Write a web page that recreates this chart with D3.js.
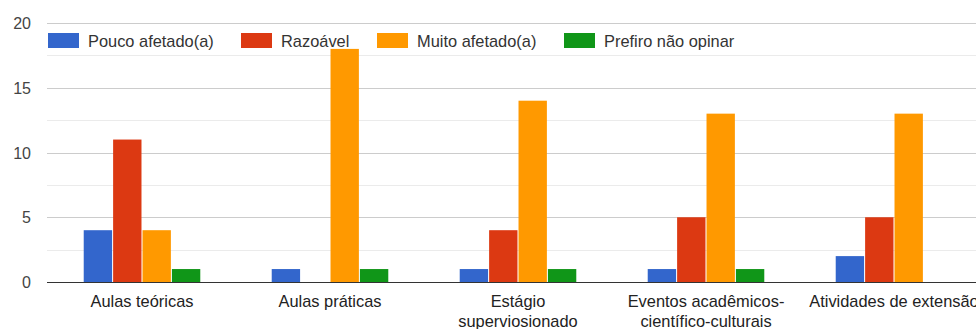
<!DOCTYPE html>
<html><head><meta charset="utf-8">
<script src="https://cdn.jsdelivr.net/npm/d3@7"></script>
<style>body{margin:0;background:#fff;overflow:hidden}svg{display:block;font-family:Arial,"Liberation Sans",sans-serif}</style>
</head><body><svg id="c" width="976" height="329"></svg>
<script>
const categories = [["Aulas teóricas"],["Aulas práticas"],["Estágio","superviosionado"],["Eventos acadêmicos-","científico-culturais"],["Atividades de extensão"]];
const seriesNames = ["Pouco afetado(a)","Razoável","Muito afetado(a)","Prefiro não opinar"];
const seriesColors = ["#3366cc","#dc3912","#ff9900","#109618"];
const pouco = [4,1,1,1,2];
const razoavel = [11,0,4,5,5];
const muito = [4,18,14,13,13];
const prefiro = [1,1,1,1,0];
const yTicks = [0,5,10,15,20];
const yMinor = [2.5,7.5,12.5,17.5];

(function(){
const values = [pouco, razoavel, muito, prefiro];
const svg = d3.select("#c");
const mLeft = 48, mRight = 988, mTop = 23, mBottom = 282;
const x = d3.scaleBand().domain(d3.range(categories.length)).range([mLeft, mRight]);
const groupW = x.step()*0.62;
const x1 = d3.scaleBand().domain(d3.range(seriesNames.length))
  .range([(x.step()-groupW)/2, (x.step()+groupW)/2]).paddingInner(0.035).paddingOuter(0);
const y = d3.scaleLinear().domain([0,20]).range([mBottom, mTop]);

svg.append("g").selectAll("line").data(yMinor).join("line")
  .attr("x1", mLeft-1).attr("x2", 976).attr("y1", d=>Math.round(y(d))+0.5).attr("y2", d=>Math.round(y(d))+0.5)
  .attr("stroke","#ebebeb").attr("stroke-width",1);
svg.append("g").selectAll("line").data(yTicks.filter(d=>d>0)).join("line")
  .attr("x1", mLeft-1).attr("x2", 976).attr("y1", d=>Math.round(y(d))+0.5).attr("y2", d=>Math.round(y(d))+0.5)
  .attr("stroke","#cccccc").attr("stroke-width",1);

svg.append("g").selectAll("text").data(yTicks).join("text")
  .attr("x", 31).attr("y", d=>y(d)+6).attr("text-anchor","end")
  .attr("font-size",16).attr("fill","#444").text(d=>d);

const legX = [48, 241, 377, 564];
const leg = svg.append("g");
leg.append("rect").attr("x",46).attr("y",28).attr("width",720).attr("height",24).attr("fill","#fff");
seriesNames.forEach((n,i)=>{
  leg.append("rect").attr("x",legX[i]).attr("y",33).attr("width",31).attr("height",15).attr("fill",seriesColors[i]);
  leg.append("text").attr("x",legX[i]+40).attr("y",46.5).attr("font-size",16.4).attr("fill","#333").text(n);
});

const g = svg.append("g");
categories.forEach((c,ci)=>{
  values.forEach((s,si)=>{
    if(s[ci]>0){
      g.append("rect").attr("x", x(ci)+x1(si)).attr("width", x1.bandwidth())
        .attr("y", y(s[ci])).attr("height", y(0)-y(s[ci])).attr("fill", seriesColors[si]);
    }
  });
});

svg.append("line").attr("x1",mLeft-1).attr("x2",976).attr("y1",mBottom+0.5).attr("y2",mBottom+0.5).attr("stroke","#333").attr("stroke-width",1.2);

categories.forEach((c,ci)=>{
  const t = svg.append("text").attr("text-anchor","middle").attr("font-size",16.4).attr("fill","#222");
  c.forEach((line,li)=>{
    t.append("tspan").attr("x", x(ci)+x.bandwidth()/2).attr("y", 307+li*20).text(line);
  });
});
})();
</script></body></html>
